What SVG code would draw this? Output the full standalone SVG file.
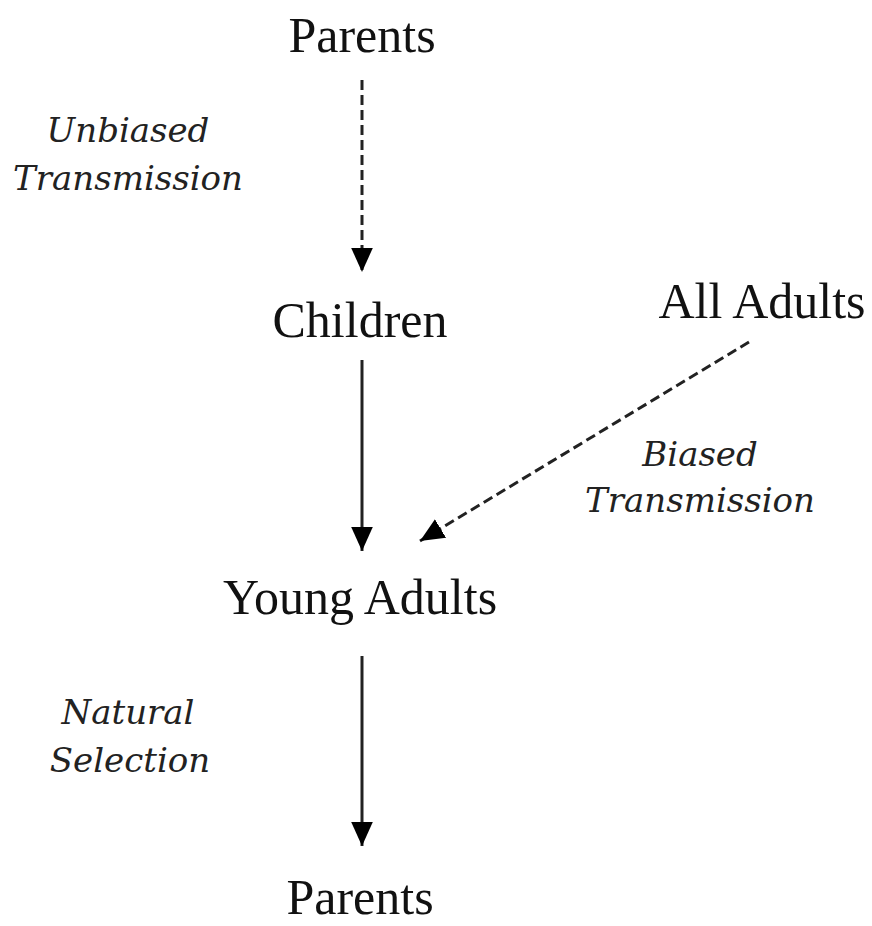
<svg xmlns="http://www.w3.org/2000/svg" width="872" height="926" viewBox="0 0 872 926">
<style>
.n{font-family:"Liberation Serif","Times New Roman",serif;font-size:50px;fill:#111;text-anchor:middle}
.l{font-family:"DejaVu Serif","Liberation Serif",serif;font-style:italic;font-size:34px;fill:#222;text-anchor:middle}
.c{stroke:#222;stroke-width:3;fill:none}
.d{stroke-dasharray:10,5}
</style>
<defs>
<marker id="a" viewBox="0 0 10 10" refX="10" refY="5" markerWidth="8" markerHeight="8" orient="auto">
<path d="M0,0.5 L10,5 L0,9.5 z" fill="#000"/>
</marker>
</defs>
<g id="connectors">
<line class="c d" x1="362" y1="80" x2="362" y2="272" marker-end="url(#a)"/>
<line class="c" x1="362" y1="360" x2="362" y2="551" marker-end="url(#a)"/>
<line class="c d" x1="749" y1="342" x2="420" y2="541" marker-end="url(#a)"/>
<line class="c" x1="362" y1="656" x2="362" y2="846" marker-end="url(#a)"/>
</g>
<g id="parents-top"><text class="n" x="362" y="52">Parents</text></g>
<g id="children"><text class="n" x="360" y="337">Children</text></g>
<g id="all-adults"><text class="n" x="762" y="318">All Adults</text></g>
<g id="young-adults"><text class="n" x="360" y="614">Young Adults</text></g>
<g id="parents-bottom"><text class="n" x="360" y="914">Parents</text></g>
<g id="label-unbiased"><text class="l" x="128" y="142">Unbiased</text><text class="l" x="128" y="190">Transmission</text></g>
<g id="label-biased"><text class="l" x="700" y="466">Biased</text><text class="l" x="700" y="512">Transmission</text></g>
<g id="label-selection"><text class="l" x="128" y="724">Natural</text><text class="l" x="130" y="772">Selection</text></g>
</svg>
